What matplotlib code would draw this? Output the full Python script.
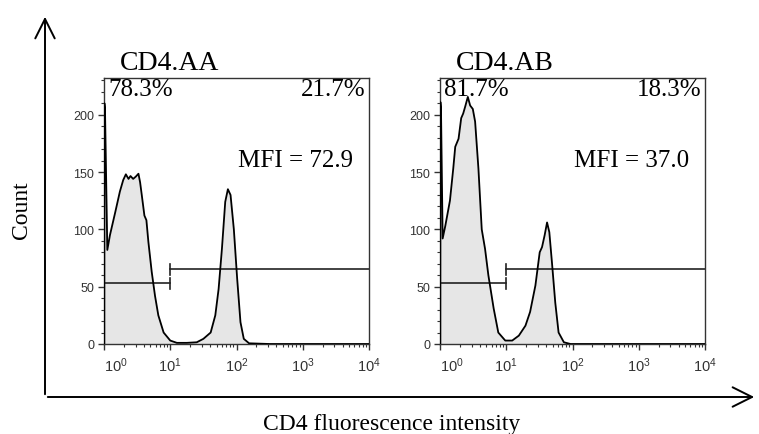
import numpy as np
import matplotlib
matplotlib.use("Agg")
import matplotlib.pyplot as plt
from matplotlib.patches import FancyArrowPatch
import matplotlib.transforms as mtransforms

SERIF = "Liberation Serif"
SANS = "Liberation Sans"

# ---- data (x in log10 units, y in counts) ----
aa_logx = [0.004, 0.006, 0.015, 0.05, 0.09, 0.17, 0.24, 0.29, 0.33, 0.37, 0.40, 0.44, 0.48,
           0.52, 0.545, 0.57, 0.61, 0.64, 0.67, 0.72, 0.77, 0.82, 0.90, 1.0, 1.1, 1.25,
           1.40, 1.50, 1.61, 1.68, 1.73, 1.78, 1.83, 1.87, 1.91, 1.96, 2.01, 2.06, 2.11,
           2.19, 2.5, 3.0, 4.0]
aa_count = [0, 210, 205, 82, 95, 115, 133, 143, 148, 144, 146.5, 144, 146,
            148.5, 141, 130, 112, 108, 89, 63, 42, 25, 10, 3, 1, 1,
            1.5, 4.5, 10, 25, 48, 83, 124, 135, 130, 100, 57, 19, 4.5,
            0.6, 0, 0, 0]

ab_logx = [0.004, 0.006, 0.015, 0.04, 0.08, 0.15, 0.20, 0.23, 0.28, 0.32, 0.35, 0.38, 0.42,
           0.455, 0.495, 0.53, 0.58, 0.63, 0.68, 0.73, 0.81, 0.88, 0.985, 1.09, 1.19,
           1.29, 1.36, 1.44, 1.505, 1.54, 1.58, 1.616, 1.65, 1.69, 1.74, 1.79, 1.87,
           1.97, 2.5, 3.0, 4.0]
ab_count = [0, 211, 205, 92, 103, 125, 153, 172, 179, 197, 201, 207, 215.5,
            208, 205, 194, 153, 100, 83, 60, 31, 10, 3, 3, 7.3,
            16, 28, 51, 80, 84.5, 95, 106, 97.6, 71, 36, 10, 1.5,
            0, 0, 0, 0]

titles = ["CD4.AA", "CD4.AB"]
neg_pct = ["78.3%", "81.7%"]
pos_pct = ["21.7%", "18.3%"]
mfi = ["MFI = 72.9", "MFI = 37.0"]
gate_split = 10.0
gate_neg_y = [53, 53]
gate_pos_y = [65, 65]
yticks = [0, 50, 100, 150, 200]
xdecades = [0, 1, 2, 3, 4]

W, H = 759, 435
fig = plt.figure(figsize=(W / 100, H / 100), dpi=100)

panels = [(104, aa_logx, aa_count), (440, ab_logx, ab_count)]
for i, (left, lx, cnt) in enumerate(panels):
    ax = fig.add_axes([left / W, (H - 345) / H, 265 / W, 266 / H])
    x = 10 ** np.array(lx)
    ax.fill_between(x, cnt, 0, color="#e6e6e6", lw=0)
    ax.plot(x, cnt, color="black", lw=1.3, zorder=3)
    ax.set_xscale("log")
    ax.set_xlim(1, 1e4)
    ax.set_ylim(0, 232)

    # gates
    ax.plot([1, gate_split], [gate_neg_y[i]] * 2, color="#222", lw=1.2)
    ax.plot([gate_split] * 2, [gate_neg_y[i] - 5, gate_neg_y[i] + 5], color="#222", lw=1.2)
    ax.plot([gate_split, 1e4], [gate_pos_y[i]] * 2, color="#222", lw=1.2)
    ax.plot([gate_split] * 2, [gate_pos_y[i] - 5, gate_pos_y[i] + 5], color="#222", lw=1.2)

    ax.set_xticks([10.0 ** d for d in xdecades])
    ax.set_xticklabels([r"$\mathregular{10^{%d}}$" % d for d in xdecades])
    ax.set_xticks([m * 10.0 ** d for d in xdecades[:-1] for m in range(2, 10)], minor=True)
    ax.set_xticklabels([], minor=True)
    ax.set_yticks(yticks)
    ax.set_yticks(np.arange(0, 231, 10), minor=True)
    for lab in ax.get_xticklabels():
        lab.set_fontfamily(SANS)
        lab.set_fontsize(10.5)
        lab.set_color("#333")
    for lab in ax.get_yticklabels():
        lab.set_fontfamily(SANS)
        lab.set_fontsize(9)
        lab.set_color("#333")
    ax.tick_params(which="major", length=4, width=1, color="#333", pad=3)
    ax.tick_params(axis="x", which="major", pad=4)
    ax.tick_params(which="minor", length=2.5, width=0.8, color="#333")
    for s in ax.spines.values():
        s.set_linewidth(1.0)
        s.set_color("#333")
    # first decade label sits a bit right of its tick, as in FlowJo
    first = ax.xaxis.get_major_ticks()[0].label1
    first.set_transform(first.get_transform()
                        + mtransforms.ScaledTranslation(0.12, 0, fig.dpi_scale_trans))

    ax.text(0.015, 1.0, neg_pct[i], transform=ax.transAxes, ha="left", va="top",
            fontsize=18, family=SERIF)
    ax.text(0.985, 1.0, pos_pct[i], transform=ax.transAxes, ha="right", va="top",
            fontsize=18, family=SERIF)
    ax.text(0.94, 0.69, mfi[i], transform=ax.transAxes, ha="right", va="center",
            fontsize=18, family=SERIF)
    ax.text(0.06, 1.01, titles[i], transform=ax.transAxes, ha="left", va="bottom",
            fontsize=20, family=SERIF)

# outer axes arrows
x0, y0 = 45 / W, (H - 398) / H
fig.add_artist(FancyArrowPatch((x0, y0), (x0, (H - 15) / H), transform=fig.transFigure,
                               arrowstyle="->,head_length=0.7,head_width=0.35",
                               mutation_scale=20, lw=1.4, color="black"))
fig.add_artist(FancyArrowPatch((x0, y0), (757 / W, y0), transform=fig.transFigure,
                               arrowstyle="->,head_length=0.7,head_width=0.35",
                               mutation_scale=20, lw=1.4, color="black"))

fig.text(22 / W, (H - 210) / H, "Count", rotation=90, ha="center", va="center",
         fontsize=17, family=SERIF)
fig.text(392 / W, (H - 425) / H, "CD4 fluorescence intensity", ha="center", va="center",
         fontsize=17, family=SERIF)

fig.savefig("out.png", dpi=100)
